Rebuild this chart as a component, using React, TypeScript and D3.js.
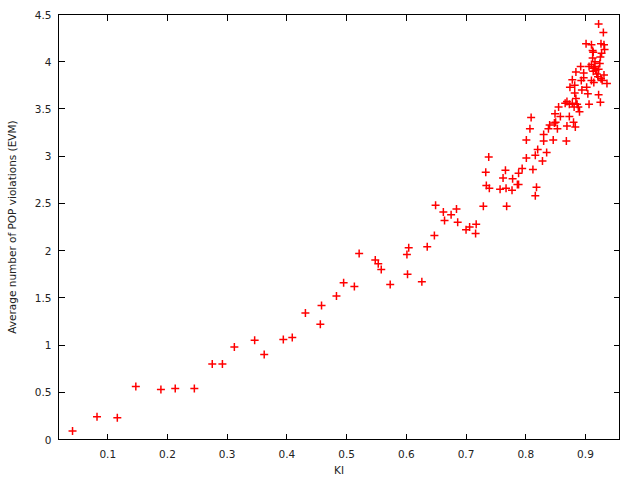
import React from "react";
import * as d3 from "d3";

const xTicks = [0.1, 0.2, 0.3, 0.4, 0.5, 0.6, 0.7, 0.8, 0.9];
const yTicks = [0, 0.5, 1, 1.5, 2, 2.5, 3, 3.5, 4, 4.5];
const xTitle = "KI";
const yTitle = "Average number of POP violations (EVM)";

const kiValues = [
  0.041, 0.082, 0.116, 0.147, 0.189, 0.213, 0.245, 0.275, 0.292, 0.312,
  0.346, 0.362, 0.394, 0.409, 0.431, 0.458, 0.456, 0.483, 0.495, 0.513,
  0.521, 0.548, 0.553, 0.558, 0.573, 0.604, 0.601, 0.602, 0.626, 0.635,
  0.647, 0.649, 0.662, 0.664, 0.675, 0.684, 0.686, 0.700, 0.706, 0.717,
  0.716, 0.729, 0.734, 0.739, 0.738, 0.733, 0.757, 0.762, 0.766, 0.768,
  0.767, 0.777, 0.778, 0.788, 0.786, 0.788, 0.794, 0.801, 0.801, 0.807,
  0.809, 0.812, 0.816, 0.820, 0.818, 0.816, 0.828, 0.830, 0.830, 0.835,
  0.838, 0.840, 0.846, 0.848, 0.850, 0.853, 0.849, 0.855, 0.858, 0.868,
  0.869, 0.866, 0.869, 0.873, 0.873, 0.881, 0.882, 0.884, 0.886, 0.888,
  0.890, 0.883, 0.880, 0.878, 0.906, 0.925, 0.922, 0.904, 0.894, 0.882,
  0.874, 0.878, 0.884, 0.892, 0.897, 0.893, 0.897, 0.901, 0.910, 0.912,
  0.913, 0.912, 0.910, 0.915, 0.906, 0.913, 0.917, 0.922, 0.924, 0.925,
  0.927, 0.922, 0.930, 0.926, 0.931, 0.932, 0.931, 0.926, 0.928, 0.936,
  0.910, 0.914, 0.902, 0.914, 0.919, 0.921, 0.916,
];
const evmValues = [
  0.09, 0.24, 0.23, 0.56, 0.53, 0.54, 0.54, 0.80, 0.80, 0.98,
  1.05, 0.90, 1.06, 1.08, 1.34, 1.42, 1.22, 1.52, 1.66, 1.62,
  1.97, 1.90, 1.86, 1.80, 1.64, 2.03, 1.96, 1.75, 1.67, 2.04,
  2.16, 2.48, 2.41, 2.32, 2.38, 2.44, 2.30, 2.22, 2.25, 2.28,
  2.18, 2.47, 2.69, 2.66, 2.99, 2.83, 2.65, 2.77, 2.85, 2.47,
  2.66, 2.64, 2.76, 2.70, 2.70, 2.82, 2.87, 2.98, 3.17, 3.29,
  3.41, 2.86, 3.01, 3.07, 2.67, 2.58, 2.95, 3.16, 3.23, 3.04,
  3.29, 3.33, 3.17, 3.35, 3.36, 3.29, 3.45, 3.52, 3.42, 3.16,
  3.32, 3.56, 3.58, 3.55, 3.42, 3.52, 3.67, 3.61, 3.55, 3.52,
  3.47, 3.31, 3.36, 3.56, 3.55, 3.57, 3.65, 3.66, 3.70, 3.75,
  3.73, 3.81, 3.89, 3.95, 3.88, 3.80, 3.83, 4.19, 4.18, 4.12,
  4.10, 4.04, 3.97, 3.95, 3.95, 3.90, 3.91, 3.92, 3.98, 4.05,
  4.09, 4.40, 4.31, 4.19, 4.18, 4.13, 3.86, 3.82, 3.80, 3.77,
  3.80, 3.78, 3.73, 3.93, 3.87, 3.84, 4.00,
];

const W = 640;
const H = 480;
const left = 58.5;
const right = 619.5;
const top = 14.5;
const bottom = 439.5;

export default function App() {
  const x = d3.scaleLinear().domain([0.0175, 0.957]).range([left, right]);
  const y = d3.scaleLinear().domain([0, 4.5]).range([bottom, top]);
  const data = d3.zip(kiValues, evmValues);
  const tick = 6;
  const font = "'DejaVu Sans', Verdana, sans-serif";
  const pts = data.map(([a, b]) => [x(a), y(b)]);
  const path = pts
    .map(([px, py]) => `M${px - 4},${py}H${px + 4}M${px},${py - 4}V${py + 4}`)
    .join("");
  return (
    <svg
      width={W}
      height={H}
      style={{ position: "absolute", left: 0, top: 0, background: "#fff" }}
      fontFamily={font}
    >
      <rect x={0} y={0} width={W} height={H} fill="#fff" />
      <g stroke="#000" strokeWidth={1} shapeRendering="crispEdges">
        {xTicks.map((t) => (
          <g key={"x" + t}>
            <line x1={x(t)} x2={x(t)} y1={bottom} y2={bottom - tick} />
            <line x1={x(t)} x2={x(t)} y1={top} y2={top + tick} />
          </g>
        ))}
        {yTicks.map((t) => (
          <g key={"y" + t}>
            <line x1={left} x2={left + tick} y1={y(t)} y2={y(t)} />
            <line x1={right} x2={right - tick} y1={y(t)} y2={y(t)} />
          </g>
        ))}
      </g>
      <path d={path} stroke="#ff0000" strokeWidth={1.5} fill="none" />
      <rect
        x={left}
        y={top}
        width={right - left}
        height={bottom - top}
        fill="none"
        stroke="#000"
        strokeWidth={1}
        shapeRendering="crispEdges"
      />
      <g fontSize={10.5} fill="#222">
        {xTicks.map((t) => (
          <text key={"xl" + t} x={x(t)} y={bottom + 18} textAnchor="middle">
            {String(t)}
          </text>
        ))}
        {yTicks.map((t) => (
          <text key={"yl" + t} x={left - 7} y={y(t) + 4} textAnchor="end">
            {String(t)}
          </text>
        ))}
        <text x={(left + right) / 2} y={474} textAnchor="middle">
          {xTitle}
        </text>
        <text
          transform={`translate(16,${(top + bottom) / 2}) rotate(-90)`}
          textAnchor="middle"
        >
          {yTitle}
        </text>
      </g>
    </svg>
  );
}
